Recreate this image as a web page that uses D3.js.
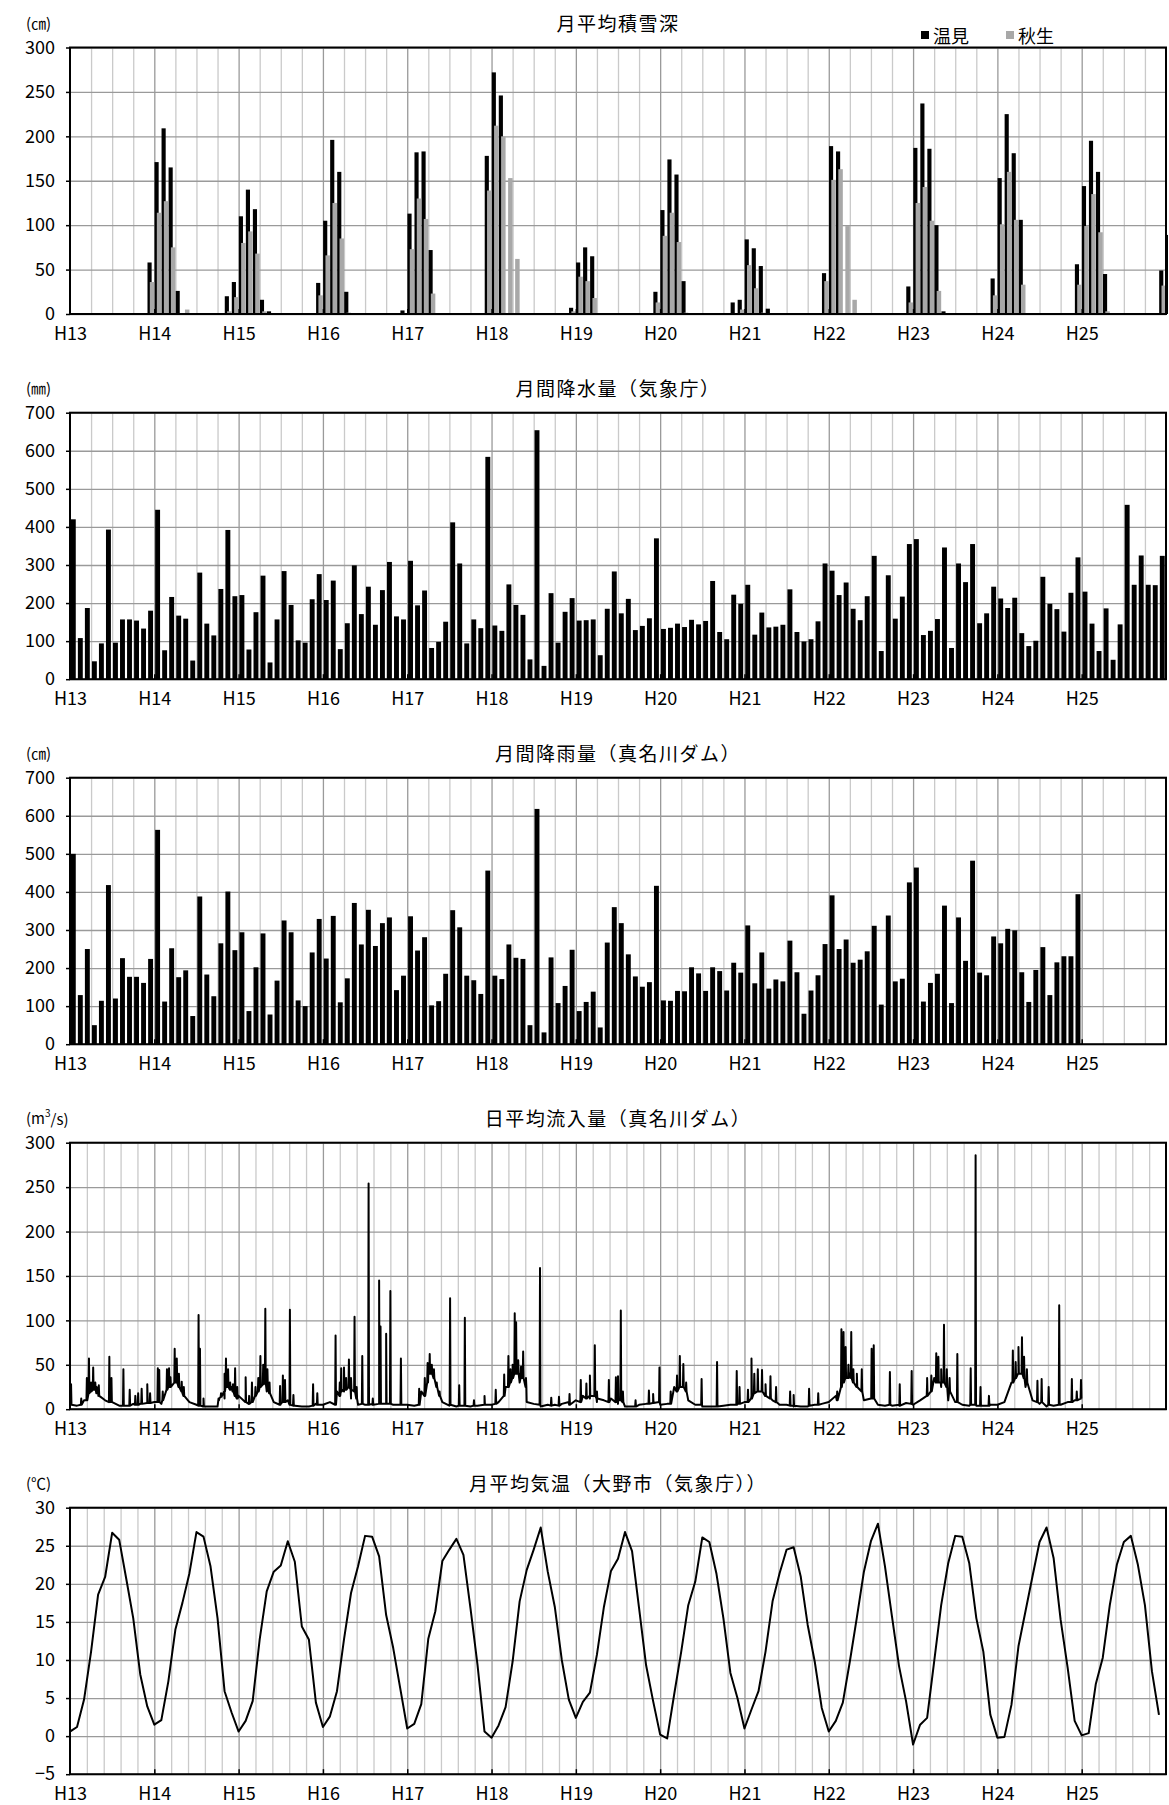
<!DOCTYPE html>
<html>
<head>
<meta charset="utf-8">
<script src="https://cdn.jsdelivr.net/npm/d3@7"></script>
<style>
  body { margin: 0; background: #fff; }
  text { font-family: "Noto Sans CJK JP", "Noto Sans", sans-serif; fill: #000; }
</style>
</head>
<body>
<div id="chart"></div>
<script>
// ---- data (index 0 = H13 Jan, one value per month) ----
var yearLabels = ["H13", "H14", "H15", "H16", "H17", "H18", "H19", "H20", "H21", "H22", "H23", "H24", "H25"];

// 月平均積雪深 (cm) : 温見 / 秋生  (last value = H26 Jan, cut by the frame)
var snowNukumi = [
  0, 0, 0, 0, 0, 0, 0, 0, 0, 0, 0, 58,
  171, 209, 165, 26, 0, 1, 1, 0, 0, 0, 20, 36,
  110, 140, 118, 16, 3, 1, 1, 1, 1, 1, 1, 35,
  105, 196, 160, 25, 0, 0, 0, 0, 0, 0, 1, 4,
  113, 182, 183, 72, 0, 0, 0, 0, 0, 0, 1, 178,
  272, 246, 0, 0, 0, 0, 0, 0, 0, 0, 0, 7,
  58, 75, 65, 1, 1, 0, 0, 0, 0, 0, 0, 25,
  117, 174, 157, 37, 0, 0, 0, 0, 0, 0, 13, 16,
  84, 74, 54, 6, 0, 0, 0, 0, 0, 0, 0.5, 46,
  189, 183, 0, 0, 0, 0, 0, 0, 0, 0.5, 0.5, 31,
  187, 237, 186, 100, 3, 0, 0, 0, 0, 0, 0.5, 40,
  153, 225, 181, 106, 0, 0, 0, 0, 0, 0, 0.5, 56,
  144, 195, 160, 45, 0, 0, 0, 0, 0, 0, 1, 49,
  89
];
var snowAkiu = [
  0, 0, 0, 0, 0, 0, 0, 0, 0, 0, 0, 36,
  114, 127, 75, 0, 5, 0, 0, 0, 0, 0, 3, 19,
  80, 93, 68, 3, 0, 0, 0, 0, 0, 0, 0, 21,
  66, 125, 85, 1.5, 1, 1, 0, 0, 0, 0, 0, 0,
  73, 130, 107, 23, 0, 0, 0, 0, 0, 0, 0, 139,
  212, 200, 153, 62, 0, 0, 0, 0, 0, 0, 0, 3,
  42, 37, 18, 0, 0, 0, 0, 0, 0, 0, 0, 13,
  88, 114, 81, 1.5, 0, 0, 0, 0, 0, 0, 0, 5,
  55, 29, 1.5, 0, 0, 0, 0, 0, 0, 0, 0, 37,
  151, 163, 99, 16, 0, 0, 0, 0, 0, 0, 0, 13,
  125, 143, 105, 26, 0, 0, 0, 0, 0, 0, 0, 21,
  101, 160, 106, 33, 0, 0, 0, 0, 0, 0, 0, 33,
  99, 135, 92, 3, 0, 0, 0, 0, 0, 0, 0, 32,
  0
];

// 月間降水量 (気象庁) mm
var precipJMA = [
  420, 108, 187, 47, 94, 393, 96, 157, 157, 154, 133, 180,
  445, 76, 216, 167, 159, 49, 280, 146, 115, 237, 392, 218,
  221, 78, 176, 272, 44, 157, 284, 195, 102, 96, 210, 276,
  208, 259, 79, 147, 299, 171, 243, 143, 234, 308, 165, 157,
  311, 194, 233, 82, 98, 151, 412, 304, 94, 157, 134, 584,
  141, 127, 249, 195, 169, 52, 654, 35, 226, 96, 177, 213,
  154, 155, 157, 63, 185, 283, 173, 211, 129, 140, 160, 370,
  132, 135, 146, 137, 156, 144, 153, 258, 124, 105, 222, 198,
  248, 117, 175, 136, 138, 143, 236, 124, 99, 105, 152, 304,
  285, 221, 254, 185, 155, 218, 324, 74, 273, 159, 217, 355,
  368, 116, 127, 158, 346, 82, 304, 255, 355, 147, 173, 243,
  212, 187, 214, 121, 87, 101, 269, 198, 184, 125, 227, 320,
  230, 146, 74, 186, 51, 144, 458, 248, 325, 248, 247, 324
];

// 月間降雨量 (真名川ダム) H13-H24
var rainDam = [
  500, 129, 250, 50, 114, 418, 120, 226, 177, 177, 161, 224,
  563, 112, 252, 176, 194, 74, 388, 183, 126, 265, 401, 247,
  294, 87, 202, 291, 78, 167, 325, 294, 115, 100, 241, 329,
  225, 337, 110, 173, 371, 262, 353, 258, 318, 333, 142, 180,
  336, 246, 281, 102, 113, 185, 352, 307, 180, 168, 132, 456,
  180, 171, 262, 227, 224, 50, 618, 31, 228, 108, 153, 248,
  87, 111, 138, 44, 267, 360, 318, 236, 178, 151, 163, 416,
  115, 114, 140, 139, 202, 186, 140, 202, 192, 141, 214, 188,
  312, 160, 241, 146, 170, 165, 272, 189, 80, 141, 181, 263,
  391, 250, 275, 214, 222, 244, 311, 104, 338, 165, 172, 425,
  464, 112, 161, 185, 364, 108, 333, 219, 482, 188, 181, 283,
  265, 303, 299, 189, 111, 195, 255, 129, 215, 231, 231, 394
];

// 日平均流入量 (真名川ダム) m3/s : low-flow level at each month start (H13 Jan .. H25 Jan)
var flowBase = [
  5, 4, 10, 25, 20, 10, 8, 4, 4, 6, 6, 8,
  8, 6, 25, 30, 18, 8, 5, 3, 3, 3, 12, 25,
  15, 8, 8, 25, 20, 8, 6, 10, 4, 3, 3, 6,
  5, 8, 20, 20, 12, 5, 5, 6, 6, 6, 5, 5,
  5, 4, 20, 40, 30, 8, 4, 3, 4, 3, 4, 5,
  5, 8, 25, 35, 30, 8, 6, 3, 5, 5, 6, 8,
  10, 15, 12, 8, 10, 12, 6, 3, 3, 5, 6, 8,
  5, 6, 25, 25, 10, 5, 3, 3, 3, 4, 5, 6,
  8, 15, 20, 20, 10, 5, 5, 3, 3, 3, 5, 6,
  8, 15, 35, 40, 25, 10, 12, 5, 4, 4, 5, 7,
  5, 10, 30, 35, 25, 10, 8, 5, 4, 4, 4, 5,
  5, 8, 30, 40, 25, 10, 6, 3, 4, 5, 8, 10,
  12
];
// flood peaks: [months since H13 Jan, peak, level at its foot]
var flowPeaks = [
  [0.15, 28, 5], [1.6, 12, 5], [2.4, 35, 10], [2.7, 57, 18], [3.0, 30, 20], [3.3, 47, 22], [3.6, 30, 22],
  [3.8, 25, 18], [4.1, 27, 15], [5.6, 59, 8], [5.9, 35, 8], [7.6, 45, 4], [8.5, 22, 4], [9.3, 15, 5],
  [9.7, 18, 5], [10.2, 23, 6], [11.0, 28, 7], [11.4, 18, 7],
  [12.5, 46, 8], [12.7, 44, 8], [13.2, 20, 10], [13.8, 45, 22], [14.1, 46, 25], [14.3, 36, 25],
  [14.9, 68, 30], [15.2, 57, 30], [15.5, 40, 25], [15.9, 31, 20], [16.2, 25, 15], [18.3, 106, 4],
  [18.5, 68, 4], [19.0, 12, 3], [21.2, 10, 12], [21.5, 18, 14],
  [22.0, 40, 20], [22.2, 57, 25], [22.5, 45, 25], [22.8, 30, 22], [23.2, 28, 20], [23.5, 46, 15],
  [23.8, 25, 12], [25.0, 36, 8], [25.5, 15, 6], [25.9, 30, 8], [26.4, 25, 15], [26.8, 35, 20],
  [27.1, 60, 25], [27.5, 50, 28], [27.8, 113, 30], [28.1, 45, 25], [28.4, 30, 18], [29.9, 26, 5],
  [30.3, 38, 8], [30.6, 33, 8], [31.3, 112, 5], [31.8, 16, 4], [34.6, 28, 4], [35.2, 18, 5],
  [37.8, 83, 5], [38.4, 30, 15], [38.6, 46, 20], [39.0, 47, 22], [39.3, 35, 22], [39.7, 56, 25],
  [40.0, 35, 22], [40.5, 104, 20], [40.8, 25, 12], [41.6, 60, 6], [42.5, 254, 5], [43.1, 12, 5],
  [44.0, 145, 6], [44.2, 93, 6], [45.0, 85, 6], [45.6, 133, 6], [47.1, 57, 5],
  [49.7, 23, 5], [50.5, 35, 15], [50.9, 52, 30], [51.2, 62, 40], [51.5, 50, 40], [51.8, 45, 35],
  [52.2, 30, 25], [52.6, 20, 15], [54.1, 125, 5], [55.4, 27, 4], [56.2, 103, 4], [57.5, 10, 4], [59.0, 15, 5],
  [60.6, 22, 6], [61.8, 39, 15], [62.4, 60, 25], [62.7, 45, 30], [63.0, 50, 35], [63.3, 108, 40],
  [63.5, 98, 40], [63.8, 55, 40], [64.2, 48, 35], [64.5, 65, 35], [64.9, 35, 25], [66.9, 159, 5],
  [68.5, 13, 4], [69.6, 14, 4], [71.1, 17, 5],
  [72.7, 33, 8], [73.5, 29, 12], [74.0, 38, 15], [74.7, 72, 15], [75.0, 20, 12], [76.7, 33, 8],
  [77.7, 36, 8], [78.0, 37, 10], [78.4, 111, 10], [78.7, 20, 8], [80.5, 10, 3], [82.4, 21, 6],
  [83.0, 17, 7], [83.9, 47, 8],
  [85.5, 20, 6], [86.4, 38, 20], [86.8, 60, 25], [87.3, 51, 25], [87.7, 30, 20], [89.9, 34, 5],
  [92.1, 53, 3], [94.9, 43, 5], [95.3, 25, 6],
  [96.5, 22, 8], [97.0, 57, 12], [97.4, 40, 18], [97.9, 45, 20], [98.5, 44, 20], [99.0, 28, 15],
  [99.7, 37, 12], [100.5, 25, 8], [102.5, 20, 4], [103.0, 16, 4], [105.2, 23, 4], [106.5, 18, 5],
  [109.2, 20, 10], [109.8, 90, 25], [110.1, 87, 30], [110.4, 70, 35], [110.8, 50, 35], [111.2, 87, 35],
  [111.5, 45, 30], [112.0, 40, 25], [112.7, 45, 20], [114.1, 68, 12], [114.4, 72, 12], [116.7, 42, 5],
  [118.1, 28, 4], [119.8, 43, 6],
  [122.0, 35, 15], [122.6, 38, 20], [123.3, 63, 30], [123.6, 59, 30], [124.0, 45, 30], [124.4, 95, 30],
  [124.8, 45, 25], [125.2, 35, 20], [126.3, 62, 8], [128.2, 46, 5], [128.9, 286, 5], [129.6, 25, 4],
  [130.8, 15, 4],
  [134.2, 66, 30], [134.6, 53, 35], [135.0, 70, 40], [135.5, 81, 40], [135.8, 59, 35], [136.2, 45, 30],
  [137.7, 32, 8], [138.3, 34, 8], [139.3, 25, 5], [140.8, 117, 5], [142.6, 34, 8], [143.3, 20, 10],
  [143.9, 33, 12]
];

// 月平均気温 (大野市) ℃
var tempOno = [
  0.6, 1.2, 4.8, 11.1, 18.6, 20.9, 26.7, 25.8, 20.7, 15.5, 8.1, 3.9,
  1.5, 2.1, 7.2, 14.0, 17.5, 21.4, 26.8, 26.2, 22.3, 15.5, 5.9, 3.1,
  0.6, 2.0, 4.6, 12.7, 19.0, 21.6, 22.4, 25.6, 22.9, 14.4, 12.7, 4.4,
  1.2, 2.6, 5.9, 12.7, 18.8, 22.3, 26.3, 26.2, 23.6, 15.9, 11.6, 6.3,
  1.0, 1.6, 4.2, 12.8, 16.4, 23.0, 24.5, 25.9, 23.8, 16.8, 9.4, 0.6,
  -0.2, 1.4, 3.8, 9.8, 17.7, 21.8, 24.5, 27.4, 21.6, 17.0, 10.0, 4.8,
  2.4, 4.5, 5.7, 10.7, 17.0, 21.7, 23.3, 26.8, 24.3, 16.8, 9.3, 4.6,
  0.2, -0.3, 5.5, 11.1, 17.2, 20.3, 26.1, 25.5, 21.4, 15.5, 8.3, 5.0,
  1.0, 3.5, 5.9, 11.1, 17.7, 21.4, 24.5, 24.8, 21.0, 14.6, 9.8, 3.7,
  0.6, 2.0, 4.4, 9.8, 15.6, 21.6, 25.6, 27.9, 22.3, 15.7, 9.2, 4.6,
  -1.1, 1.5, 2.4, 9.8, 17.2, 22.7, 26.3, 26.2, 22.7, 15.5, 11.1, 2.8,
  -0.2, -0.1, 4.1, 11.8, 16.4, 21.0, 25.5, 27.4, 23.4, 15.3, 9.0, 2.0,
  0.1, 0.4, 6.8, 10.3, 17.2, 22.5, 25.5, 26.3, 22.5, 17.2, 8.5, 2.8
];

// ---- layout ----
var svgWidth = 1169;
var svgHeight = 1805;
var plotLeft = 70;
var plotRight = 1166;
var plotHeight = 266.5;
var panelTops = [47.5, 412.7, 777.7, 1142.7, 1507.7];

var svg = d3.select("#chart")
  .append("svg")
  .attr("width", svgWidth)
  .attr("height", svgHeight);

// months since H13 Jan -> pixels
var x = d3.scaleLinear().domain([0, 156]).range([plotLeft, plotRight]);
var monthW = x(1) - x(0);

function drawPanel(idx, yMin, yMax, yStep, perYear, title, unit, drawData) {
  var top = panelTops[idx];
  var bottom = top + plotHeight;
  var y = d3.scaleLinear().domain([yMin, yMax]).range([bottom, top]);
  var yTicks = d3.range(yMin, yMax + 0.001, yStep);
  var g = svg.append("g");

  var minor = d3.range(1, 13 * perYear).filter(k => k % perYear).map(k => k * 12 / perYear);

  // light vertical grid
  g.append("g")
    .attr("transform", `translate(0, ${bottom})`)
    .call(d3.axisBottom(x).tickValues(minor).tickSize(-plotHeight).tickFormat(""))
    .call(a => a.select(".domain").remove())
    .selectAll("line").attr("stroke", "#cacaca").attr("stroke-width", 1.3);

  // year lines
  g.append("g")
    .attr("transform", `translate(0, ${bottom})`)
    .call(d3.axisBottom(x).tickValues(d3.range(12, 156, 12)).tickSize(-plotHeight).tickFormat(""))
    .call(a => a.select(".domain").remove())
    .selectAll("line").attr("stroke", "#9a9a9a").attr("stroke-width", 1.3);

  // horizontal grid
  g.append("g")
    .attr("transform", `translate(${plotLeft}, 0)`)
    .call(d3.axisLeft(y).tickValues(yTicks).tickSize(-(plotRight - plotLeft)).tickFormat(""))
    .call(a => a.select(".domain").remove())
    .selectAll("line").attr("stroke", "#9a9a9a").attr("stroke-width", 1.3);

  // clip for the data
  svg.append("clipPath").attr("id", "clip" + idx)
    .append("rect")
    .attr("x", plotLeft).attr("y", top)
    .attr("width", plotRight - plotLeft + 2).attr("height", plotHeight);
  var dg = g.append("g").attr("clip-path", `url(#clip${idx})`);
  drawData(dg, y);

  // frame
  g.append("rect")
    .attr("x", plotLeft).attr("y", top)
    .attr("width", plotRight - plotLeft).attr("height", plotHeight)
    .attr("fill", "none").attr("stroke", "#000").attr("stroke-width", 2);

  // small inner ticks at each year
  g.append("g")
    .attr("transform", `translate(0, ${bottom})`)
    .call(d3.axisBottom(x).tickValues(d3.range(12, 156, 12)).tickSize(-5).tickFormat(""))
    .call(a => a.select(".domain").remove())
    .selectAll("line").attr("stroke", "#000").attr("stroke-width", 1.5);

  // y axis labels
  var ya = g.append("g")
    .attr("transform", `translate(${plotLeft}, 0)`)
    .call(d3.axisLeft(y).tickValues(yTicks).tickSize(4).tickPadding(11))
    .call(a => a.select(".domain").remove());
  ya.attr("font-family", null).attr("font-size", 18);
  ya.selectAll("line").attr("stroke", "#000").attr("stroke-width", 1.5);

  // x axis labels
  var xa = g.append("g")
    .attr("transform", `translate(0, ${bottom})`)
    .call(d3.axisBottom(x).tickValues(d3.range(0, 145, 12)).tickSize(0).tickPadding(13)
      .tickFormat((d, i) => yearLabels[i]))
    .call(a => a.select(".domain").remove());
  xa.attr("font-family", null).attr("font-size", 18);

  // title and unit
  g.append("text")
    .attr("x", (plotLeft + plotRight) / 2)
    .attr("y", top - 25)
    .attr("text-anchor", "middle")
    .attr("dominant-baseline", "central")
    .attr("font-size", 19)
    .attr("letter-spacing", "1.5px")
    .text(title);

  g.append("text")
    .attr("x", 26)
    .attr("y", top - 25)
    .attr("dominant-baseline", "central")
    .attr("font-size", 15)
    .html(unit);

  return g;
}

// panel 1: snow depth
drawPanel(0, 0, 300, 50, 4, "月平均積雪深", "(㎝)", function(dg, y) {
  dg.selectAll(".nukumi")
    .data(snowNukumi)
    .enter()
    .append("rect")
    .attr("x", (d, i) => x(i + 0.03))
    .attr("width", monthW * 0.59)
    .attr("y", d => y(d))
    .attr("height", d => y(0) - y(d))
    .attr("fill", "#000");
  dg.selectAll(".akiu")
    .data(snowAkiu)
    .enter()
    .append("rect")
    .attr("x", (d, i) => x(i + 0.36))
    .attr("width", monthW * 0.64)
    .attr("y", d => y(d))
    .attr("height", d => y(0) - y(d))
    .attr("fill", "#a8a8a8");
});

// legend
var legend = svg.append("g").attr("font-size", 18);
legend.append("rect").attr("x", 921).attr("y", 31).attr("width", 8).attr("height", 8).attr("fill", "#000");
legend.append("text").attr("x", 933).attr("y", 35).attr("dominant-baseline", "central").text("温見");
legend.append("rect").attr("x", 1006).attr("y", 31).attr("width", 8).attr("height", 8).attr("fill", "#a8a8a8");
legend.append("text").attr("x", 1018).attr("y", 35).attr("dominant-baseline", "central").text("秋生");

// panel 2: JMA precipitation
drawPanel(1, 0, 700, 100, 4, "月間降水量（気象庁）", "(㎜)", function(dg, y) {
  dg.selectAll("rect")
    .data(precipJMA)
    .enter()
    .append("rect")
    .attr("x", (d, i) => x(i + 0.12))
    .attr("width", monthW * 0.7)
    .attr("y", d => y(d))
    .attr("height", d => y(0) - y(d))
    .attr("fill", "#000");
});

// panel 3: dam rainfall
drawPanel(2, 0, 700, 100, 4, "月間降雨量（真名川ダム）", "(㎝)", function(dg, y) {
  dg.selectAll("rect")
    .data(rainDam)
    .enter()
    .append("rect")
    .attr("x", (d, i) => x(i + 0.12))
    .attr("width", monthW * 0.7)
    .attr("y", d => y(d))
    .attr("height", d => y(0) - y(d))
    .attr("fill", "#000");
});

// panel 4: daily inflow
var flowPts = flowBase.map((v, i) => [i, v]);
flowPeaks.forEach(function(p) {
  flowPts.push([p[0] - 0.06, p[2]], [p[0], p[1]], [p[0] + 0.06, p[2]]);
});
flowPts.sort((a, b) => a[0] - b[0]);

drawPanel(3, 0, 300, 50, 5, "日平均流入量（真名川ダム）", "(m<tspan dy='-6' font-size='10'>3</tspan><tspan dy='6'>/s)</tspan>", function(dg, y) {
  var line = d3.line().x(d => x(d[0])).y(d => y(d[1]));
  dg.append("path")
    .datum(flowPts)
    .attr("d", line)
    .attr("fill", "none")
    .attr("stroke", "#000")
    .attr("stroke-width", 2)
    .attr("stroke-linejoin", "round");
});

// panel 5: monthly mean temperature
drawPanel(4, -5, 30, 5, 5, "月平均気温（大野市（気象庁））", "(℃)", function(dg, y) {
  var line = d3.line().x((d, i) => x(i)).y(d => y(d));
  dg.append("path")
    .datum(tempOno)
    .attr("d", line)
    .attr("fill", "none")
    .attr("stroke", "#000")
    .attr("stroke-width", 2)
    .attr("stroke-linejoin", "round");
});
</script>
</body>
</html>
